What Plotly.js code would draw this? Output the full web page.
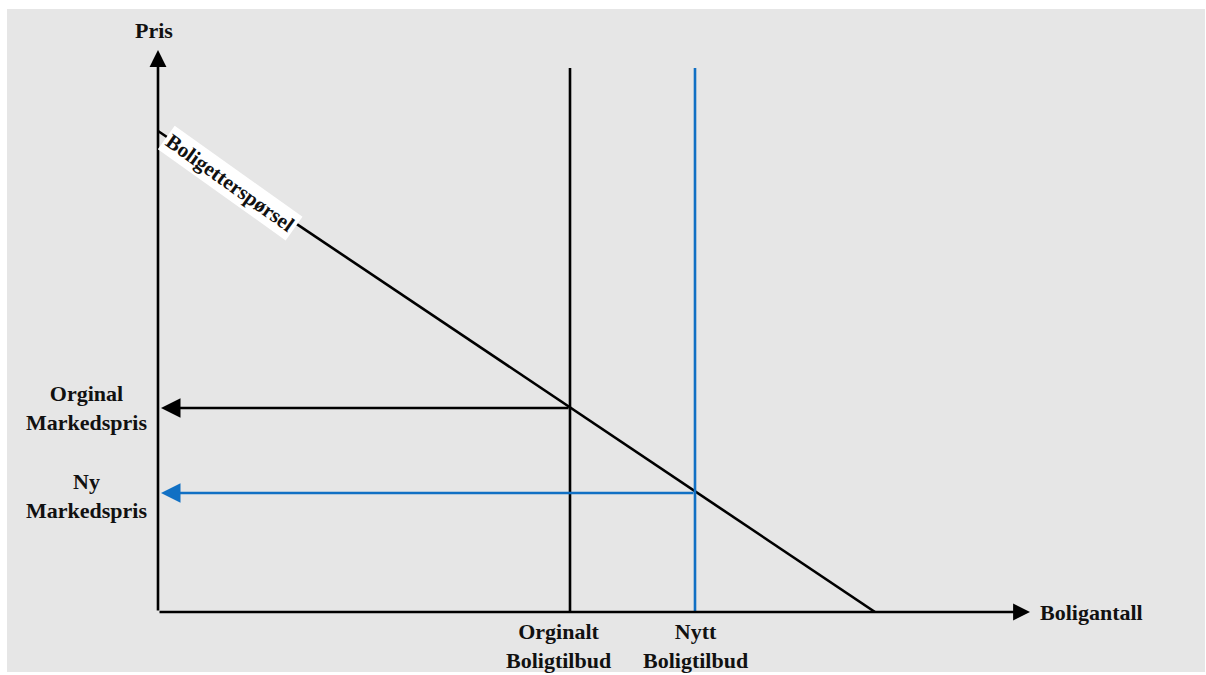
<!DOCTYPE html>
<html><head><meta charset="utf-8">
<script src="https://cdn.plot.ly/plotly-3.0.1.min.js"></script>
<style>
html,body{margin:0;padding:0;background:#ffffff;width:1206px;height:675px;overflow:hidden}
#bg{position:absolute;left:7px;top:9px;width:1198px;height:663px;background:#e6e6e6}
#chart{position:absolute;left:0;top:0;width:1206px;height:675px}
</style>
</head><body><div id="bg"></div><div id="chart"></div>
<script>
// ---- data ----
const axisMaxQ = 8.72;          // end of quantity axis
const axisMaxP = 5.62;          // end of price axis
const demandQ = [0, 7.17];
const demandP = [4.81, 0];
const supplyQ = [4.12, 5.37];   // original, new housing supply
const supplyTopP = 5.44;
const supplyLabels = ['Orginalt<br>Boligtilbud', 'Nytt<br>Boligtilbud'];
const marketP = [2.04, 1.19];   // original, new market price
const priceLabels = ['Orginal<br>Markedspris', 'Ny<br>Markedspris'];
const demandLabel = 'Boligetterspørsel';
const demandLabelQ = 0.72;
const axisTitles = ['Boligantall', 'Pris'];

// ---- styles ----
const colors = ['#000000', '#1170c4'];
const supplyLabelShift = [-12, 0];
const lw = 2.6;
const font = {family: 'Liberation Serif, Times New Roman, serif', size: 22, color: '#111111', weight: 'bold'};

const traces = [];
traces.push({x: demandQ, y: demandP, mode: 'lines', line: {color: '#000', width: lw}, hoverinfo: 'skip'});
supplyQ.forEach((q, i) => {
  traces.push({x: [q, q], y: [0, supplyTopP], mode: 'lines', line: {color: colors[i], width: lw}, hoverinfo: 'skip'});
});

const annotations = [];
// axes drawn as arrows
annotations.push({x: axisMaxQ, y: 0, ax: 0, ay: 0, axref: 'x', ayref: 'y', xref: 'x', yref: 'y', text: '',
  showarrow: true, arrowhead: 2, arrowsize: 1.3, arrowwidth: lw, arrowcolor: '#000'});
annotations.push({x: 0, y: axisMaxP, ax: 0, ay: 0, axref: 'x', ayref: 'y', xref: 'x', yref: 'y', text: '',
  showarrow: true, arrowhead: 2, arrowsize: 1.3, arrowwidth: lw, arrowcolor: '#000'});
// axis titles
annotations.push({x: axisMaxQ, y: 0, xref: 'x', yref: 'y', text: axisTitles[0], showarrow: false,
  xanchor: 'left', yanchor: 'middle', xshift: 8, font: font});
annotations.push({x: 0, y: axisMaxP, xref: 'x', yref: 'y', text: axisTitles[1], showarrow: false,
  xanchor: 'center', yanchor: 'bottom', xshift: -4, yshift: 5, font: font});
// price arrows + labels
marketP.forEach((p, i) => {
  annotations.push({x: 0.03, y: p, ax: supplyQ[i], ay: p, axref: 'x', ayref: 'y', xref: 'x', yref: 'y', text: '',
    showarrow: true, arrowhead: 2, arrowsize: 1.5, arrowwidth: lw, arrowcolor: colors[i]});
  annotations.push({x: 0, y: p, xref: 'x', yref: 'y', text: priceLabels[i], showarrow: false, align: 'center',
    xanchor: 'right', yanchor: 'middle', xshift: -9, yshift: i === 0 ? 0 : -3, font: font});
});
// supply labels
supplyQ.forEach((q, i) => {
  annotations.push({x: q, y: 0, xref: 'x', yref: 'y', text: supplyLabels[i], showarrow: false, align: 'center',
    xanchor: 'center', yanchor: 'top', xshift: supplyLabelShift[i], yshift: -5, font: font});
});
// demand curve label
const dLabelP = demandP[0] + (demandP[1] - demandP[0]) * (demandLabelQ - demandQ[0]) / (demandQ[1] - demandQ[0]);
annotations.push({x: demandLabelQ, y: dLabelP, xref: 'x', yref: 'y', text: demandLabel, showarrow: false,
  textangle: 35.5, bgcolor: '#ffffff', borderpad: 2, xanchor: 'center', yanchor: 'middle', yshift: -4,
  font: Object.assign({}, font, {size: 21})});

const layout = {
  width: 1206, height: 675,
  margin: {l: 158, r: 176, t: 50, b: 63},
  paper_bgcolor: 'rgba(0,0,0,0)', plot_bgcolor: 'rgba(0,0,0,0)',
  showlegend: false,
  xaxis: {range: [0, axisMaxQ], visible: false, fixedrange: true},
  yaxis: {range: [0, axisMaxP], visible: false, fixedrange: true},
  annotations: annotations
};
Plotly.newPlot('chart', traces, layout, {staticPlot: true, displayModeBar: false});
</script>
</body></html>
